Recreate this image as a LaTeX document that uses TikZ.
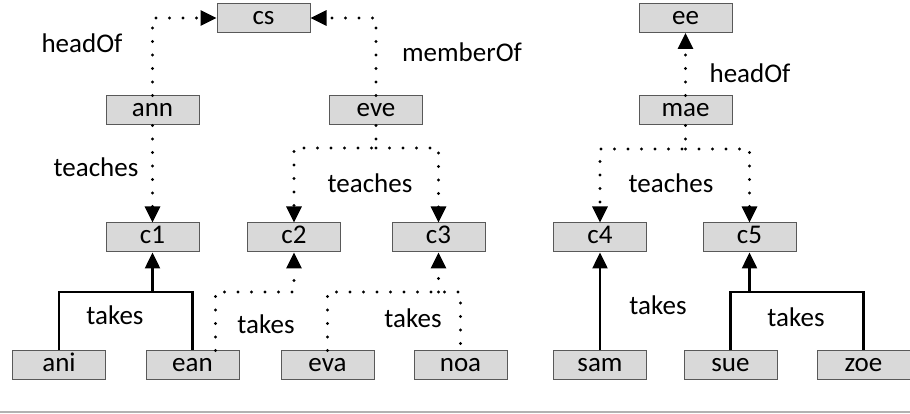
\documentclass[tikz,border=0pt]{standalone}
\usepackage{fontspec}
\setmainfont{Carlito}
\usetikzlibrary{arrows.meta}

\begin{document}
\begin{tikzpicture}[x=1pt,y=1pt,
    box/.style={draw=black!65, fill=black!15, line width=1pt, minimum width=93pt, minimum height=29pt, inner sep=0pt, text height=15pt, text depth=2pt, font=\fontsize{27}{29}\selectfont},
    lbl/.style={font=\fontsize{27}{29}\selectfont, inner sep=0pt},
    dotline/.style={line width=3.2pt, line cap=round, dash pattern=on 0pt off 13.5pt},
    solidln/.style={line width=2.5pt},
    >={Triangle[length=16pt,width=15pt]}]
    \useasboundingbox (0,0) rectangle (910,414);

    % Departments and people
    \node[box] (cs) at (263.5,396) {cs};
    \node[box] (ann) at (152.5,303.5) {ann};
    \node[box] (eve) at (376,303.5) {eve};
    \node[box] (ee) at (685.5,396) {ee};
    \node[box] (mae) at (685.5,303.5) {mae};

    % Courses
    \node[box] (c1) at (152.5,176.5) {c1};
    \node[box] (c2) at (294,176.5) {c2};
    \node[box] (c3) at (438.5,176.5) {c3};
    \node[box] (c4) at (600,176.5) {c4};
    \node[box] (c5) at (749.5,176.5) {c5};

    % Students
    \node[box] (ani) at (59,48.5) {ani};
    \node[box] (ean) at (192.5,48.5) {ean};
    \node[box] (eva) at (327.5,48.5) {eva};
    \node[box] (noa) at (460.5,48.5) {noa};
    \node[box] (sam) at (600,48.5) {sam};
    \node[box] (sue) at (730.5,48.5) {sue};
    \node[box] (zoe) at (863.5,48.5) {zoe};

    % headOf / memberOf
    \draw[dotline,->] (ann.north) |- (cs.west);
    \draw[dotline,->] (eve.north) |- (cs.east);
    \draw[dotline,->] (mae.north) -- (ee.south);

    % teaches
    \draw[dotline,->] (ann.south) -- (c1.north);
    \draw[dotline,->] (eve.south) -- (eve.south |- 0,266) -| (c2.north);
    \draw[dotline,->] (eve.south |- 0,266) -| (c3.north);
    \draw[dotline,->] (mae.south) -- (mae.south |- 0,265) -| (c4.north);
    \draw[dotline,->] (mae.south |- 0,265) -| (c5.north);

    % takes
    \draw[solidln] (ani.north) |- (ean.north |- 0,122) -- (ean.north);
    \draw[solidln,->] (c1.south |- 0,122) -- (c1.south);
    \draw[dotline,->] ([xshift=23pt]ean.north) |- (c2.south |- 0,122) -- (c2.south);
    \draw[dotline] (eva.north) |- (noa.north |- 0,122) -- (noa.north);
    \draw[dotline,->] (c3.south |- 0,122) -- (c3.south);
    \draw[solidln,->] (sam.north) -- (c4.south);
    \draw[solidln] (sue.north) |- (zoe.north |- 0,122) -- (zoe.north);
    \draw[solidln,->] (c5.south |- 0,122) -- (c5.south);

    % Labels
    \node[lbl] (l1) at (82,371) {headOf};
    \node[lbl] (l2) at (462,362) {memberOf};
    \node[lbl] (l3) at (750,341) {headOf};
    \node[lbl] (l4) at (96,247) {teaches};
    \node[lbl] (l5) at (370,231) {teaches};
    \node[lbl] (l6) at (671,231) {teaches};
    \node[lbl] (l7) at (115,99) {takes};
    \node[lbl] (l8) at (266,90) {takes};
    \node[lbl] (l9) at (413,96) {takes};
    \node[lbl] (l10) at (658,109) {takes};
    \node[lbl] (l11) at (796,97) {takes};

    % Base rule
    \draw[black!30, line width=1.5pt] (0,2) -- (910,2);
\end{tikzpicture}
\end{document}
